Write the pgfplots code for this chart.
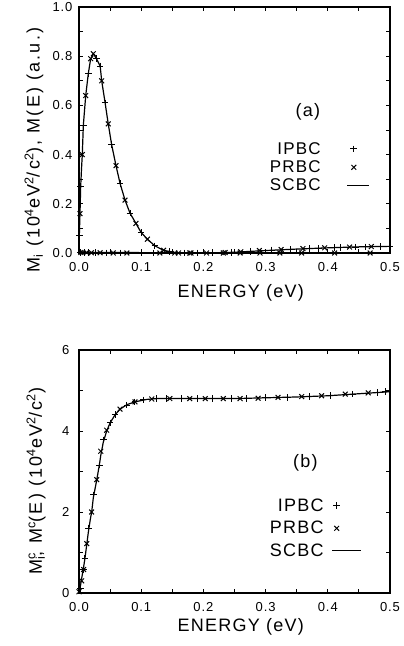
\documentclass[border=0pt]{standalone}
\usepackage{fontspec}
\setmainfont{Liberation Sans}[LetterSpace=7]
\usepackage{pgfplots}
\pgfplotsset{compat=1.18}
\pgfplotsset{mystyle/.style={
  scale only axis, width=311pt, anchor=south west,
  xmin=0, xmax=0.5, xtick={0,0.1,0.2,0.3,0.4,0.5}, minor x tick num=1,
  tick align=inside, major tick length=4pt, minor tick length=4pt,
  every tick/.style={black, line width=0.8pt},
  axis line style={line width=1.2pt},
  tick label style={font=\fontsize{13}{15}\selectfont},
  /pgf/number format/assume math mode=true,
  xticklabel style={yshift=-5.5pt, /pgf/number format/.cd, fixed, fixed zerofill, precision=1},
  xlabel={ENERGY (eV)},
  label style={font=\fontsize{18}{20}\selectfont},
  ylabel style={font=\fontsize{18}{20}\selectfont\addfontfeature{LetterSpace=12}},
  legend plot pos=right, legend cell align=right,
  ipbc/.style={only marks, mark=+, mark size=3.3pt, line width=1pt, black},
  prbc/.style={only marks, mark=x, mark size=3.4pt, line width=1pt, black},
  scbc/.style={no marks, line width=1.2pt, black},
}}
\begin{document}
\begin{tikzpicture}
\useasboundingbox (0,0) rectangle (404pt,646pt);
% ---------------- (a) ----------------
\begin{axis}[mystyle, at={(79pt,393pt)}, height=246pt,
  ymin=0, ymax=1, ytick={0,0.2,0.4,0.6,0.8,1.0}, minor y tick num=1,
  yticklabel style={xshift=-3pt, /pgf/number format/.cd, fixed, fixed zerofill, precision=1},
  xlabel style={at={(axis description cs:0.52,0)}, anchor=center, yshift=-40pt},
  ylabel={M\textsubscript{i} (10\textsuperscript{4}eV\textsuperscript{2}/c\textsuperscript{2}), M(E) (a.u.)},
  ylabel style={at={(axis description cs:-0.145,0.419)}, anchor=center},
  legend style={at={(axis description cs:0.936,0.455)}, anchor=north east,
    draw=none, fill=none, inner sep=0pt, font=\fontsize{17}{17}\selectfont,
    nodes={inner xsep=0pt, inner ysep=1pt}, column sep=26pt, row sep=3pt},
  mk/.style={legend image code/.code={\path[draw=none,fill=none] (0pt,-3pt) rectangle (22pt,3pt); \draw[##1] plot coordinates {(6.5pt,0pt)};}},
  ln/.style={legend image code/.code={\draw[##1] (0pt,0pt) -- (22pt,0pt);}},
]
\addplot[ipbc, mk] coordinates {
(0.0005,0.07) (0.0027,0.27) (0.007,0.52) (0.015,0.73) (0.028,0.79) (0.034,0.76)
(0.042,0.61) (0.0525,0.44) (0.066,0.283) (0.082,0.162) (0.1,0.083) (0.122,0.029)
(0.145,0.005) (0.17,0.0) (0.19,0.0) (0.215,0.001) (0.245,0.003) (0.275,0.007)
(0.31,0.012) (0.34,0.015) (0.37,0.018) (0.385,0.019) (0.41,0.022) (0.42,0.022)
(0.445,0.024) (0.46,0.025) (0.485,0.026) (0.5,0.027)};
\addlegendentry{IPBC}
\addplot[prbc, mk] coordinates {
(0.0016,0.16) (0.0053,0.40) (0.0108,0.64) (0.0188,0.79) (0.023,0.81) (0.0365,0.70)
(0.047,0.525) (0.0595,0.355) (0.074,0.215) (0.0916,0.12) (0.11,0.056) (0.136,0.011)
(0.16,0.0) (0.18,0.0) (0.235,0.002) (0.26,0.005) (0.29,0.01) (0.325,0.014)
(0.36,0.018) (0.395,0.021) (0.435,0.024) (0.47,0.026)};
\addlegendentry{PRBC}
\addplot[scbc, ln] coordinates {
(0,0) (0.0005,0.07) (0.0016,0.16) (0.0027,0.27) (0.004,0.34) (0.0053,0.40)
(0.007,0.52) (0.0108,0.64) (0.015,0.73) (0.0188,0.79) (0.023,0.81) (0.028,0.79)
(0.034,0.76) (0.0365,0.70) (0.042,0.61) (0.047,0.525) (0.0525,0.44) (0.0595,0.355)
(0.066,0.283) (0.074,0.215) (0.082,0.162) (0.0916,0.12) (0.1,0.083) (0.11,0.056)
(0.122,0.029) (0.136,0.011) (0.154,0.002) (0.18,0.0) (0.2,0.0) (0.25,0.003)
(0.3,0.010) (0.35,0.016) (0.4,0.021) (0.45,0.025) (0.5,0.027)};
\addlegendentry{SCBC}
% flat zero curve
\addplot[scbc, forget plot] coordinates {(0,0.002) (0.5,0.0)};
\addplot[prbc, forget plot] coordinates {
(0.003,0.002) (0.006,0.002) (0.012,0.002) (0.02,0.001) (0.034,0.001) (0.055,0.0)
(0.077,0.0) (0.13,0.0) (0.154,0.0) (0.178,0.0) (0.205,0.0) (0.232,0.0) (0.259,0.0)
(0.291,0.0) (0.323,0.0) (0.358,0.0) (0.411,0.0) (0.468,0.0)};
\addplot[ipbc, forget plot] coordinates {
(0.002,0.002) (0.009,0.002) (0.016,0.001) (0.027,0.001) (0.045,0.0) (0.066,0.0)
(0.1,0.0) (0.12,0.0)};
\node[font=\fontsize{18}{20}\selectfont] at (axis description cs:0.736,0.573) {(a)};
\end{axis}
% ---------------- (b) ----------------
\begin{axis}[mystyle, at={(79pt,53pt)}, height=243pt,
  ymin=0, ymax=6, ytick={0,2,4,6}, minor y tick num=1,
  yticklabel style={xshift=-6pt},
  xlabel style={at={(axis description cs:0.52,0)}, anchor=center, yshift=-34pt},
  ylabel={M\rlap{\textsuperscript{c}}\textsubscript{i}, M\textsuperscript{c}(E) (10\textsuperscript{4}eV\textsuperscript{2}/c\textsuperscript{2})},
  ylabel style={at={(axis description cs:-0.138,0.461)}, anchor=center},
  legend style={at={(axis description cs:0.910,0.393)}, anchor=north east,
    draw=none, fill=none, inner sep=0pt, font=\fontsize{18}{18}\selectfont,
    nodes={inner xsep=0pt, inner ysep=1pt}, column sep=8pt, row sep=6.5pt},
  mk/.style={legend image code/.code={\path[draw=none,fill=none] (0pt,-3pt) rectangle (29pt,3pt); \draw[##1] plot coordinates {(4.5pt,0pt)};}},
  ln/.style={legend image code/.code={\draw[##1] (0pt,0pt) -- (29pt,0pt);}},
]
\addplot[ipbc, mk] coordinates {
(0.002,0.1) (0.007,0.58) (0.0096,0.86) (0.015,1.6) (0.023,2.42) (0.0327,3.16)
(0.039,3.78) (0.05,4.2) (0.058,4.4) (0.077,4.64) (0.09,4.72) (0.103,4.77)
(0.125,4.8) (0.14,4.8) (0.165,4.8) (0.19,4.8) (0.215,4.8) (0.245,4.8) (0.27,4.8)
(0.3,4.82) (0.335,4.83) (0.37,4.85) (0.405,4.88) (0.44,4.91) (0.48,4.95) (0.492,4.97)};
\addlegendentry{IPBC}
\addplot[prbc, mk] coordinates {
(0.0,0.03) (0.0043,0.3) (0.0075,0.58) (0.0125,1.22) (0.0204,2.0) (0.0285,2.8)
(0.035,3.5) (0.0445,4.02) (0.066,4.54) (0.09,4.72) (0.117,4.79) (0.146,4.8)
(0.178,4.8) (0.203,4.8) (0.232,4.8) (0.259,4.8) (0.288,4.81) (0.32,4.83)
(0.358,4.85) (0.39,4.87) (0.428,4.91) (0.465,4.94)};
\addlegendentry{PRBC}
\addplot[scbc, ln] coordinates {
(0,0) (0.002,0.15) (0.0043,0.36) (0.007,0.6) (0.0096,0.86) (0.0125,1.2) (0.015,1.5)
(0.0185,1.85) (0.0204,2.0) (0.023,2.35) (0.0285,2.79) (0.0327,3.16) (0.035,3.4)
(0.039,3.72) (0.0445,4.0) (0.05,4.2) (0.058,4.4) (0.066,4.54) (0.077,4.65)
(0.09,4.72) (0.109,4.78) (0.125,4.8) (0.15,4.8) (0.2,4.8) (0.25,4.8) (0.3,4.82)
(0.35,4.84) (0.4,4.87) (0.45,4.92) (0.5,4.97)};
\addlegendentry{SCBC}
\node[font=\fontsize{18}{20}\selectfont] at (axis description cs:0.728,0.535) {(b)};
\end{axis}
\end{tikzpicture}
\end{document}
